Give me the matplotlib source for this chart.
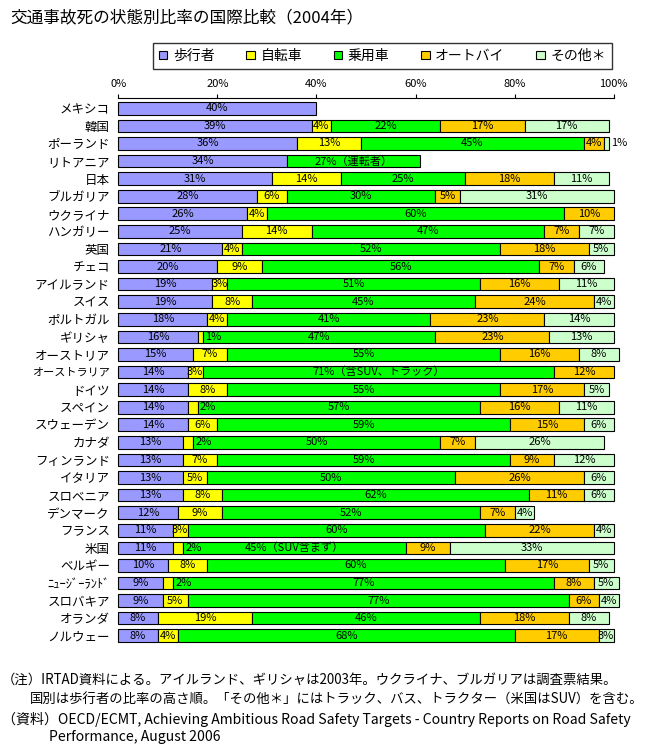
import numpy as np
import matplotlib.pyplot as plt
from matplotlib.patches import Patch

plt.rcParams['font.family'] = ['Noto Sans CJK JP', 'DejaVu Sans']

# データ（2004年、%）
kuni = ["メキシコ", "韓国", "ポーランド", "リトアニア", "日本", "ブルガリア", "ウクライナ",
        "ハンガリー", "英国", "チェコ", "アイルランド", "スイス", "ポルトガル", "ギリシャ",
        "オーストリア", "オーストラリア", "ドイツ", "スペイン", "スウェーデン", "カナダ",
        "フィンランド", "イタリア", "スロベニア", "デンマーク", "フランス", "米国", "ベルギー",
        "ﾆｭｰｼﾞｰﾗﾝﾄﾞ", "スロバキア", "オランダ", "ノルウェー"]
hokousha = [40, 39, 36, 34, 31, 28, 26, 25, 21, 20, 19, 19, 18, 16, 15, 14, 14, 14, 14, 13,
            13, 13, 13, 12, 11, 11, 10, 9, 9, 8, 8]
jitensha = [0, 4, 13, 0, 14, 6, 4, 14, 4, 9, 3, 8, 4, 1, 7, 3, 8, 2, 6, 2,
            7, 5, 8, 9, 3, 2, 8, 2, 5, 19, 4]
jouyousha = [0, 22, 45, 27, 25, 30, 60, 47, 52, 56, 51, 45, 41, 47, 55, 71, 55, 57, 59, 50,
             59, 50, 62, 52, 60, 45, 60, 77, 77, 46, 68]
ootobai = [0, 17, 4, 0, 18, 5, 10, 7, 18, 7, 16, 24, 23, 23, 16, 12, 17, 16, 15, 7,
           9, 26, 11, 7, 22, 9, 17, 8, 6, 18, 17]
sonota = [0, 17, 1, 0, 11, 31, 0, 7, 5, 6, 11, 4, 14, 13, 8, 0, 5, 11, 6, 26,
          12, 6, 6, 4, 4, 33, 5, 5, 4, 8, 3]

hanrei = ["歩行者", "自転車", "乗用車", "オートバイ", "その他＊"]
iro = ["#9999FF", "#FFFF00", "#00FF00", "#FFCC00", "#CCFFCC"]

# 乗用車ラベルの注記
chuki = {"リトアニア": "27%（運転者）", "オーストラリア": "71%（含SUV、トラック）",
         "米国": "45%（SUV含まず）"}

fig = plt.figure(figsize=(6.55, 7.53), dpi=100)
ax = fig.add_axes([118.3 / 655, 1 - 646.3 / 753, 495.4 / 655, 548.0 / 753])

y = np.arange(len(kuni))
left = np.zeros(len(kuni))
for vals, name, c in zip([hokousha, jitensha, jouyousha, ootobai, sonota], hanrei, iro):
    vals = np.array(vals, dtype=float)
    m = vals > 0
    ax.barh(y[m], vals[m], left=left[m], height=0.72, color=c,
            edgecolor="black", linewidth=0.8, clip_on=False)
    for i in np.where(m)[0]:
        v = vals[i]
        txt = f"{int(v)}%"
        if name == "乗用車" and kuni[i] in chuki:
            txt = chuki[kuni[i]]
        if v <= 2:
            ax.text(left[i] + v + 0.5, y[i], txt, ha="left", va="center", fontsize=8)
        else:
            ax.text(left[i] + v / 2, y[i], txt, ha="center", va="center", fontsize=8)
    left += vals

ax.set_xlim(0, 100)
ax.set_ylim(30.6, -0.57)
ax.xaxis.tick_top()
ax.set_xticks([0, 20, 40, 60, 80, 100])
ax.set_xticklabels(["0%", "20%", "40%", "60%", "80%", "100%"])
ax.tick_params(axis="x", length=3, width=0.8, pad=4, labelsize=8)
ax.set_yticks(y)
ax.set_yticklabels(kuni)
ax.tick_params(axis="y", length=0, pad=6, labelsize=9)
for lab in ax.get_yticklabels():
    if lab.get_text() == "オーストラリア":
        lab.set_fontsize(8)
for s in ["left", "right", "bottom"]:
    ax.spines[s].set_visible(False)
ax.spines["top"].set_linewidth(0.8)

handles = [Patch(facecolor=c, edgecolor="black", linewidth=0.8) for c in iro]
leg = fig.legend(handles, hanrei, loc="upper left",
                 bbox_to_anchor=(152.7 / 655, 1 - 70.3 / 753, 459.3 / 655, 27.6 / 753),
                 mode="expand", ncol=5, fontsize=10, frameon=True, fancybox=False,
                 edgecolor="black", borderaxespad=0, handlelength=0.6, handleheight=0.6,
                 handletextpad=0.4, borderpad=0.45)
leg.get_frame().set_linewidth(1.0)

fig.text(10 / 655, 1 - 18 / 753, "交通事故死の状態別比率の国際比較（2004年）",
         fontsize=12, ha="left", va="center")

chu = [(2, 680.0, 9.6, "（注）IRTAD資料による。アイルランド、ギリシャは2003年。ウクライナ、ブルガリアは調査票結果。"),
       (30, 699.5, 9.6, "国別は歩行者の比率の高さ順。「その他＊」にはトラック、バス、トラクター（米国はSUV）を含む。"),
       (2, 719.5, 10.1, "（資料）OECD/ECMT, Achieving Ambitious Road Safety Targets - Country Reports on Road Safety"),
       (49, 737.0, 10.1, "Performance, August 2006")]
for xx, yy, fs, t in chu:
    fig.text(xx / 655, 1 - yy / 753, t, fontsize=fs, ha="left", va="center")

fig.savefig("out.png", dpi=100)
